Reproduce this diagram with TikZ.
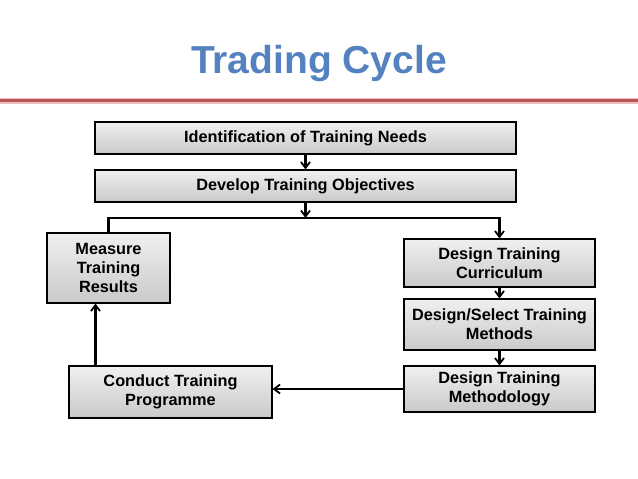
\documentclass[tikz,border=0pt]{standalone}
\usepackage{fontspec}
\setmainfont{Liberation Sans}
\usetikzlibrary{arrows.meta,shadows,calc}
\definecolor{titleblue}{RGB}{84,130,192}
\definecolor{rulered}{RGB}{185,85,85}
\definecolor{rulepink}{RGB}{235,190,190}
\begin{document}
\begin{tikzpicture}[x=1pt,y=-1pt,
  box/.style n args={2}{draw=black, line width=1.1pt, top color=gray!12, bottom color=gray!42,
    drop shadow={shadow xshift=1.2pt, shadow yshift=-1.2pt, fill=black, opacity=0.12},
    font=\bfseries\fontsize{16.3}{19}\selectfont, align=center, inner sep=0pt,
    minimum width=#1, minimum height=#2},
  arr/.style={line width=2.2pt, -{Straight Barb[length=6pt,width=9pt,line width=1.8pt]}}]
\fill[white] (0,0) rectangle (638,479);
\useasboundingbox (0,0) rectangle (638,479);

\node[font=\bfseries\fontsize{39}{39}\selectfont, text=titleblue] (title) at (319,64) {Trading Cycle};
\draw[rulepink, line width=6pt] (0,100.5) -- (638,100.5);
\draw[rulered, line width=3pt] (0,100.5) -- (638,100.5);

\node[box={421pt}{32pt}] (idn) at (305.5,138) {Identification of Training Needs};
\node[box={421pt}{32pt}] (obj) at (305.5,186) {Develop Training Objectives};
\node[box={123pt}{70pt}] (meas) at (108.5,268) {Measure\\Training\\Results};
\node[box={191pt}{48pt}] (curr) at (499.5,263) {Design Training\\Curriculum};
\node[box={191pt}{51pt}] (meth) at (499.5,324.5) {Design/Select Training\\Methods};
\node[box={191pt}{46pt}] (mdlg) at (499.5,389) {Design Training\\Methodology};
\node[box={203pt}{52pt}] (cond) at (170.5,392) {Conduct Training\\Programme};

\coordinate (hy) at (0,218);
\coordinate (ux) at (95.5,0);

\draw[arr] (idn.south) -- (obj.north);
\draw[arr] (obj.south) -- (obj.south |- hy);
\draw[arr] (meas.north) -- (meas.north |- hy) -| (curr.north);
\draw[arr] (curr.south) -- (meth.north);
\draw[arr] (meth.south) -- (mdlg.north);
\draw[arr] (mdlg.west) -- (mdlg.west -| cond.east);
\draw[arr] (cond.north -| ux) -- (meas.south -| ux);
\end{tikzpicture}
\end{document}
